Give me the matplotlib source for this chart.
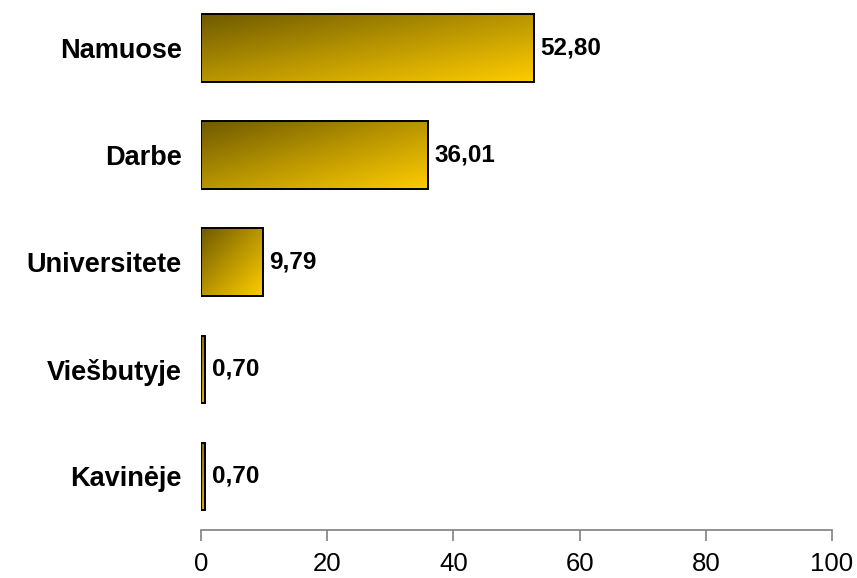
import numpy as np
import matplotlib
matplotlib.use("Agg")
from matplotlib import pyplot as plt
from matplotlib.colors import LinearSegmentedColormap

# data
categories = ["Namuose", "Darbe", "Universitete", "Viešbutyje", "Kavinėje"]
values = [52.80, 36.01, 9.79, 0.70, 0.70]
xticks = [0, 20, 40, 60, 80, 100]

plt.rcParams['font.family'] = ['Liberation Sans', 'DejaVu Sans']

fig = plt.figure(figsize=(8.57, 5.78), dpi=100)
ax = fig.add_axes([0.2345, 0.083, 0.7363, 0.9267])

cmap = LinearSegmentedColormap.from_list("gold", ["#6f5a00", "#b99600", "#ffcc00"])
ypos = np.arange(len(categories))
bar_h = 0.63

# diagonal gradient, dark at top-left, bright at bottom-right
gy, gx = np.mgrid[0:1:100j, 0:1:200j]
grad = (gx + gy) / 2

bars = ax.barh(ypos, values, height=bar_h, color='none', edgecolor='black', linewidth=1.4, zorder=3)
for b in bars:
    x0, y0 = b.get_x(), b.get_y()
    w, h = b.get_width(), b.get_height()
    im = ax.imshow(grad, cmap=cmap, extent=(x0, x0 + w, y0 + h, y0), aspect='auto',
                   origin='upper', zorder=2, interpolation='bilinear')
    im.set_clip_path(b)

for y, v in zip(ypos, values):
    ax.text(v + 1.0, y, f"{v:.2f}".replace('.', ','), va='center', ha='left',
            fontsize=17.5, fontweight='bold')

ax.set_xlim(0, 100)
ax.set_ylim(len(categories) - 0.5, -0.5)
ax.set_yticks(ypos)
ax.set_yticklabels(categories, fontsize=19.5, fontweight='bold')
ax.tick_params(axis='y', length=0, pad=14)
ax.set_xticks(xticks)
ax.set_xticklabels([str(t) for t in xticks], fontsize=18.5)
ax.tick_params(axis='x', direction='out', length=8, color='#808080', width=1.2, pad=8)

for s in ['top', 'right', 'left']:
    ax.spines[s].set_visible(False)
ax.spines['bottom'].set_color('#808080')
ax.spines['bottom'].set_linewidth(1.2)

fig.savefig("out.png", dpi=100)
